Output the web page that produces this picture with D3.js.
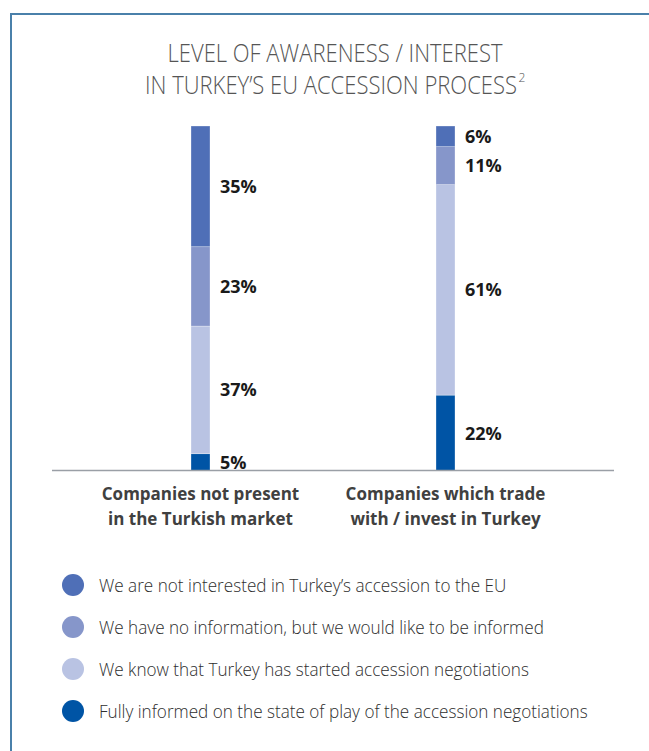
<!DOCTYPE html>
<html>
<head>
<meta charset="utf-8">
<script src="https://cdn.jsdelivr.net/npm/d3@7"></script>
<style>
  html, body { margin: 0; padding: 0; background: #fff; }
  svg { display: block; }
</style>
</head>
<body>
<svg id="chart" width="649" height="751"></svg>
<script>
// ---- data ----
const titleLines = ["LEVEL OF AWARENESS / INTEREST", "IN TURKEY\u2019S EU ACCESSION PROCESS"];
const titleNote = "2";
const categories = [
  ["Companies not present", "in the Turkish market"],
  ["Companies which trade", "with / invest in Turkey"]
];
const seriesNames = [
  "We are not interested in Turkey\u2019s accession to the EU",
  "We have no information, but we would like to be informed",
  "We know that Turkey has started accession negotiations",
  "Fully informed on the state of play of the accession negotiations"
];
const notInterested = [35, 6];
const noInformation = [23, 11];
const knowStarted   = [37, 61];
const fullyInformed = [5, 22];
const seriesColors = ["#4f6fb7", "#8696ca", "#b9c3e3", "#0054a5"];

// ---- build ----
const svg = d3.select("#chart");
const font = "'Open Sans', 'DejaVu Sans', sans-serif";

// frame
svg.append("path")
  .attr("d", "M11,751 V14 H649")
  .attr("fill", "none").attr("stroke", "#4a80aa").attr("stroke-width", 2);

// title
const title = svg.append("g").attr("font-family", font).attr("font-weight", 300)
  .attr("fill", "#555").attr("font-size", 25).attr("text-anchor", "middle");
const t1 = title.append("text").attr("x", 335).attr("y", 62).text(titleLines[0]);
const natural1 = t1.node().getComputedTextLength();
const tRatio = 335 / natural1;
t1.attr("textLength", natural1 * tRatio).attr("lengthAdjust", "spacingAndGlyphs");
const t2 = title.append("text").attr("x", 331).attr("y", 94).text(titleLines[1]);
const natural2 = t2.node().getComputedTextLength();
const w2 = natural2 * tRatio;
t2.attr("textLength", w2).attr("lengthAdjust", "spacingAndGlyphs");
title.append("text").attr("x", 331 + w2 / 2 + 1.5).attr("y", 82)
  .attr("text-anchor", "start").attr("font-size", 12).text(titleNote);

// scales
const catKeys = categories.map(c => c.join(" "));
const x = d3.scalePoint().domain(catKeys).range([200.5, 445.5]);
const y = d3.scaleLinear().domain([0, 100]).range([471, 126]);
const barW = 19;

// stack (bottom -> top)
const rows = catKeys.map((k, i) => ({
  key: k,
  s3: fullyInformed[i], s2: knowStarted[i], s1: noInformation[i], s0: notInterested[i]
}));
const stack = d3.stack().keys(["s3", "s2", "s1", "s0"]);
const stacked = stack(rows);
const colorOf = { s0: seriesColors[0], s1: seriesColors[1], s2: seriesColors[2], s3: seriesColors[3] };

const layers = svg.append("g").selectAll("g").data(stacked).join("g")
  .attr("fill", d => colorOf[d.key]);
layers.selectAll("rect").data(d => d).join("rect")
  .attr("x", d => x(d.data.key) - barW / 2)
  .attr("y", d => y(d[1]))
  .attr("width", barW)
  .attr("height", d => y(d[0]) - y(d[1]))
  .attr("stroke", "#fff").attr("stroke-opacity", 0.5).attr("stroke-width", 0.6);

// value labels
const labels = svg.append("g").attr("font-family", font).attr("font-weight", 700)
  .attr("font-size", 18).attr("fill", "#1a1a1a");
stacked.forEach(layer => {
  layer.forEach(d => {
    labels.append("text")
      .attr("x", x(d.data.key) + barW / 2 + 10)
      .attr("y", (y(d[0]) + y(d[1])) / 2 + 6.5)
      .text((d[1] - d[0]) + "%");
  });
});

// baseline
svg.append("line").attr("x1", 52).attr("x2", 614).attr("y1", 470.5).attr("y2", 470.5)
  .attr("stroke", "#9a9fa6").attr("stroke-width", 1.5);

// category labels
const cat = svg.append("g").attr("font-family", font).attr("font-weight", 700)
  .attr("font-size", 17).attr("fill", "#404040").attr("text-anchor", "middle");
categories.forEach((lines, i) => {
  lines.forEach((ln, j) => {
    cat.append("text").attr("x", x(catKeys[i])).attr("y", 500 + j * 25).text(ln);
  });
});

// legend
const leg = svg.append("g").attr("font-family", font).attr("font-weight", 300)
  .attr("font-size", 18.5).attr("fill", "#2e2e2e");
const legTexts = seriesNames.map((name, i) => {
  const cy = 585 + i * 42;
  leg.append("circle").attr("cx", 73).attr("cy", cy).attr("r", 11).attr("fill", seriesColors[i]);
  return leg.append("text").attr("x", 99).attr("y", cy + 6.5).text(name);
});
const widths = legTexts.map(t => t.node().getComputedTextLength());
const lRatio = (403 + 493) / (widths[0] + widths[3]);
legTexts.forEach((t, i) => t.attr("textLength", widths[i] * lRatio).attr("lengthAdjust", "spacingAndGlyphs"));
</script>
</body>
</html>
